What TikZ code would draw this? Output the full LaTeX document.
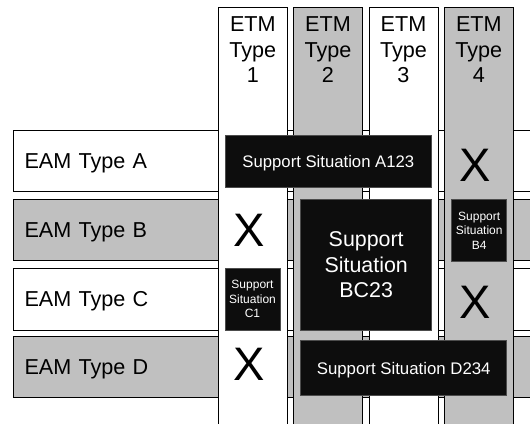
\documentclass[tikz,border=0pt]{standalone}
\usepackage{fontspec}
\setmainfont{Liberation Sans}
\definecolor{cellgray}{RGB}{192,192,192}
\definecolor{boxblack}{RGB}{13,13,13}
\begin{document}
\begin{tikzpicture}[x=1pt,y=-1pt,
  rowbox/.style={draw=black, line width=1pt, minimum height=61.5pt, text width=500pt,
    inner xsep=11.3pt, inner ysep=0pt, align=left, anchor=west, text depth=0pt,
    font=\fontsize{21.6}{26}\selectfont},
  colbox/.style={draw=black, line width=1pt, minimum width=69pt, minimum height=440pt,
    anchor=north, inner sep=0pt},
  headtext/.style={anchor=north, inner sep=0pt, align=center,
    font=\fontsize{21.6}{25.5}\selectfont},
  blackbox/.style={fill=boxblack, draw=black!70, line width=0.6pt, text=white,
    inner sep=0pt, align=center},
  xmark/.style={inner sep=0pt, text depth=0pt, font=\fontsize{47}{50}\selectfont}
]
\useasboundingbox (0,0) rectangle (530,423);
\clip (0,0) rectangle (530,423);
% rows
\node[rowbox, fill=white]    (rA) at (12.7,161.2) {EAM Type A};
\node[rowbox, fill=cellgray] (rB) at (12.7,230.2) {EAM Type B};
\node[rowbox, fill=white]    (rC) at (12.7,299.3) {EAM Type C};
\node[rowbox, fill=cellgray] (rD) at (12.7,366.9) {EAM Type D};
% columns
\node[colbox, fill=white]    (c1) at (252.8,6.7) {};
\node[colbox, fill=cellgray] (c2) at (328.0,6.7) {};
\node[colbox, fill=white]    (c3) at (403.5,6.7) {};
\node[colbox, fill=cellgray] (c4) at (478.8,6.7) {};
\node[headtext] (h1) at (252.8,16.8) {ETM\\Type\\1};
\node[headtext] (h2) at (328.0,16.8) {ETM\\Type\\2};
\node[headtext] (h3) at (403.5,16.8) {ETM\\Type\\3};
\node[headtext] (h4) at (478.8,16.8) {ETM\\Type\\4};
% support situations
\node[blackbox, minimum width=206.7pt, minimum height=52.7pt, text depth=0pt,
  font=\fontsize{16.7}{20}\selectfont] (sA) at (328.35,161.35) {Support Situation A123};
\node[blackbox, minimum width=131pt, minimum height=130.7pt,
  font=\fontsize{21.4}{25.5}\selectfont] (sBC) at (366.2,264.65) {Support\\Situation\\BC23};
\node[blackbox, minimum width=55pt, minimum height=62.4pt,
  font=\fontsize{12}{14.5}\selectfont] (sB) at (479.2,230.5) {Support\\Situation\\B4};
\node[blackbox, minimum width=55pt, minimum height=61.7pt,
  font=\fontsize{12}{14.4}\selectfont] (sC) at (252.5,299.2) {Support\\Situation\\C1};
\node[blackbox, minimum width=206pt, minimum height=55pt, text depth=0pt,
  font=\fontsize{16.8}{20}\selectfont] (sD) at (403.7,368.2) {Support Situation D234};
% X marks
\node[xmark] (xA4) at (475.0,165.0) {X};
\node[xmark] (xB1) at (249.0,230.0) {X};
\node[xmark] (xC4) at (475.3,302.0) {X};
\node[xmark] (xD1) at (249.0,364.7) {X};
\end{tikzpicture}
\end{document}
